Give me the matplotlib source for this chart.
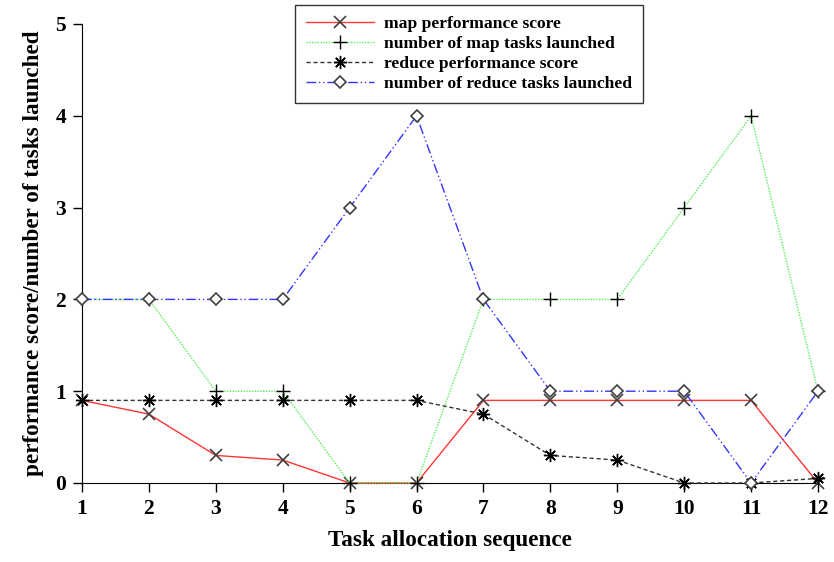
import matplotlib
matplotlib.use("Agg")
import matplotlib.pyplot as plt

seq = [1, 2, 3, 4, 5, 6, 7, 8, 9, 10, 11, 12]
map_score = [0.9, 0.75, 0.3, 0.25, 0.0, 0.0, 0.9, 0.9, 0.9, 0.9, 0.9, 0.0]
map_tasks = [2, 2, 1, 1, 0, 0, 2, 2, 2, 3, 4, 1]
reduce_score = [0.9, 0.9, 0.9, 0.9, 0.9, 0.9, 0.75, 0.3, 0.25, 0.0, 0.0, 0.05]
reduce_tasks = [2, 2, 2, 2, 3, 4, 2, 1, 1, 1, 0, 1]
labels = ["map performance score", "number of map tasks launched",
          "reduce performance score", "number of reduce tasks launched"]

plt.rcParams['font.family'] = ['Liberation Serif', 'DejaVu Serif']
plt.rcParams['font.weight'] = 'bold'

fig = plt.figure(figsize=(8.34, 5.62), dpi=100)
ax = fig.add_axes([82 / 834, 1 - 483 / 562, 736 / 834, 459 / 562])

ax.plot(seq, map_score, color='#ff3535', lw=1.0, ls='-', marker='x',
        ms=9, mec='#404040', mew=1.2, label=labels[0], clip_on=False, zorder=3)
ax.plot(seq, map_tasks, color='#55ee55', lw=1.0, ls=(0, (1, 1)), marker='+',
        ms=10, mec='black', mew=1.0, label=labels[1], clip_on=False, zorder=3)
ax.plot(seq, reduce_score, color='#333333', lw=1.0, ls=(0, (3, 2)), marker=(8, 2, 0),
        ms=9.5, mec='black', mew=1.0, label=labels[2], clip_on=False, zorder=3)
ax.plot(seq, reduce_tasks, color='#3333ff', lw=1.0, ls=(0, (7, 2, 1, 2, 1, 2)), marker='D',
        ms=6.5, mfc='white', mec='#404040', mew=1.2, label=labels[3], clip_on=False, zorder=4)

ax.set_xlim(1, 12)
ax.set_ylim(0, 5)
ax.set_xticks(seq)
ax.set_yticks([0, 1, 2, 3, 4, 5])
ax.spines['top'].set_visible(False)
ax.spines['right'].set_visible(False)
ax.tick_params(direction='out', length=6.5, width=1, labelsize=15.5, pad=5)
for t in ax.get_xticklabels() + ax.get_yticklabels():
    t.set_fontweight('bold')

ax.set_xlabel("Task allocation sequence", fontsize=16.7, fontweight='bold', labelpad=8)
ax.set_ylabel("performance score/number of tasks launched", fontsize=16.7,
              fontweight='bold', labelpad=8)

leg = ax.legend(loc='upper left', bbox_to_anchor=(295 / 834, 1 - 5 / 562),
                bbox_transform=fig.transFigure, borderaxespad=0,
                frameon=True, fancybox=False, edgecolor='black', handlelength=3.9,
                handletextpad=0.6, borderpad=0.6, labelspacing=0.22,
                prop={'weight': 'bold', 'size': 12.6})
leg.get_frame().set_linewidth(1.0)

fig.savefig("out.png", dpi=100)
